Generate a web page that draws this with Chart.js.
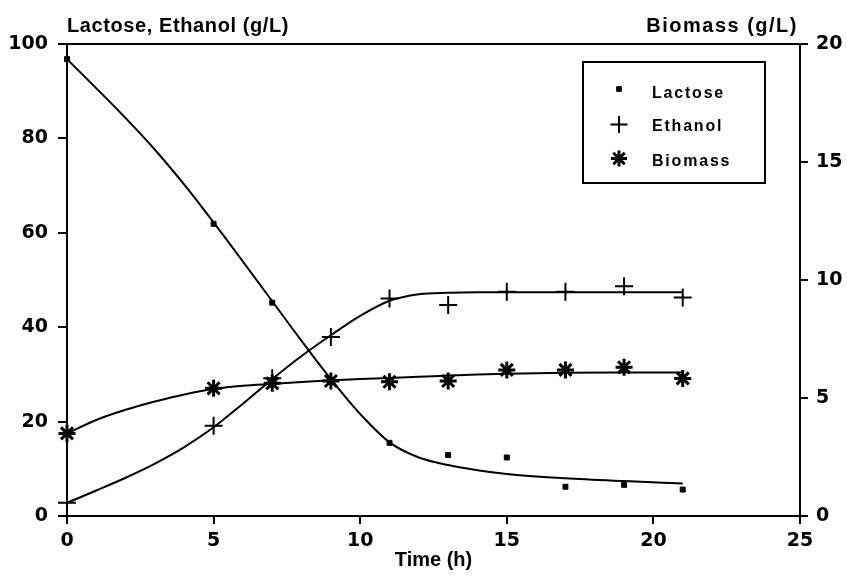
<!DOCTYPE html>
<html>
<head>
<meta charset="utf-8">
<script src="https://cdn.jsdelivr.net/npm/chart.js@4"></script>
<style>
  html, body { margin: 0; padding: 0; background: #fff; }
  #wrap { width: 847px; height: 578px; position: relative; }
</style>
</head>
<body>
<div id="wrap"><canvas id="c" width="847" height="578"></canvas></div>
<script>
// Measured data
const times = [0, 5, 7, 9, 11, 13, 15, 17, 19, 21];
const lactose = [96.8, 61.9, 45.2, 28.5, 15.5, 12.9, 12.4, 6.2, 6.6, 5.6];
const ethanol = [2.8, 19.1, 29.2, 37.9, 46.1, 44.7, 47.5, 47.5, 48.7, 46.3];
const biomass = [3.5, 5.41, 5.62, 5.72, 5.69, 5.72, 6.19, 6.19, 6.30, 5.83];

// Fitted model curves
const fitTimes = [0, 1, 2, 3, 4, 5, 6, 7, 8, 9, 10, 11, 12, 13, 14, 15, 17, 19, 21];
const lactoseFit = [96.8, 90.6, 84.3, 77.6, 70.2, 62.2, 53.9, 45.5, 37.1, 29.0, 21.6, 15.6, 12.4, 10.8, 9.7, 8.9, 8.0, 7.4, 6.9];
const ethanolFit = [2.8, 5.4, 8.1, 11.1, 14.6, 18.8, 23.8, 29.0, 33.9, 38.3, 42.4, 45.6, 47.0, 47.3, 47.4, 47.4, 47.4, 47.4, 47.4];
const biomassFit = [3.5, 4.07, 4.5, 4.85, 5.15, 5.38, 5.52, 5.6, 5.68, 5.75, 5.8, 5.85, 5.9, 5.95, 6.0, 6.03, 6.07, 6.08, 6.08];

const xTicks = [0, 5, 10, 15, 20, 25];
const leftTitle = 'Lactose, Ethanol (g/L)';
const rightTitle = 'Biomass (g/L)';
const xTitle = 'Time (h)';
const legendNames = ['Lactose', 'Ethanol', 'Biomass'];

const FONT = "'Liberation Sans', Arial, sans-serif";
const TICKFONT = "'DejaVu Sans', sans-serif";
const pts = (xs, ys) => xs.map((x, i) => ({ x: x, y: ys[i] }));

const fitStyle = {
  showLine: true, pointRadius: 0, borderColor: '#000', borderWidth: 2,
  cubicInterpolationMode: 'monotone', fill: false, clip: false
};

const datasets = [
  Object.assign({ label: 'Lactose fit', data: pts(fitTimes, lactoseFit), yAxisID: 'y' }, fitStyle),
  Object.assign({ label: 'Ethanol fit', data: pts(fitTimes, ethanolFit), yAxisID: 'y' }, fitStyle),
  Object.assign({ label: 'Biomass fit', data: pts(fitTimes, biomassFit), yAxisID: 'y2' }, fitStyle),
  { label: legendNames[0], data: pts(times, lactose), yAxisID: 'y', showLine: false, clip: false,
    pointStyle: 'rect', pointRadius: 3.5, borderColor: '#000', backgroundColor: '#000', borderWidth: 1 },
  { label: legendNames[1], data: pts(times, ethanol), yAxisID: 'y', showLine: false, clip: false,
    pointStyle: 'cross', pointRadius: 9, borderColor: '#000', backgroundColor: '#000', borderWidth: 2 },
  { label: legendNames[2], data: pts(times, biomass), yAxisID: 'y2', showLine: false, clip: false,
    pointStyle: 'star', pointRadius: 8.5, borderColor: '#000', backgroundColor: '#000', borderWidth: 3 }
];

const framePlugin = {
  id: 'frame',
  afterDatasetsDraw(chart) {
    const ctx = chart.ctx, a = chart.chartArea;
    ctx.save();
    ctx.strokeStyle = '#000';
    ctx.lineWidth = 2;
    ctx.beginPath();
    ctx.moveTo(a.left, a.top);
    ctx.lineTo(a.right, a.top);
    ctx.stroke();
    // top titles
    ctx.fillStyle = '#000';
    ctx.font = 'bold 20px ' + FONT;
    ctx.textBaseline = 'alphabetic';
    try { ctx.letterSpacing = '0.6px'; } catch (e) {}
    ctx.textAlign = 'left';
    ctx.fillText(leftTitle, a.left, 32);
    try { ctx.letterSpacing = '1.5px'; } catch (e) {}
    ctx.textAlign = 'right';
    ctx.fillText(rightTitle, a.right - 2, 32);
    // legend box
    const bx = 583, by = 62, bw = 182, bh = 121;
    ctx.lineWidth = 2;
    ctx.strokeRect(bx, by, bw, bh);
    const rows = [93.5, 127, 161.5];
    const mky = [89, 124.5, 158.5];
    const mk = [3, 4, 5];
    ctx.textAlign = 'left';
    ctx.textBaseline = 'middle';
    ctx.font = 'bold 16px ' + FONT;
    try { ctx.letterSpacing = '1.8px'; } catch (e) {}
    mk.forEach((di, i) => {
      const ds = chart.data.datasets[di];
      ctx.strokeStyle = '#000';
      ctx.fillStyle = '#000';
      ctx.lineWidth = ds.borderWidth;
      Chart.helpers.drawPoint(ctx, { pointStyle: ds.pointStyle, radius: ds.pointRadius * 0.95, rotation: 0, borderWidth: ds.borderWidth }, 619, mky[i]);
      ctx.fillStyle = '#000';
      ctx.fillText(ds.label, 652, rows[i]);
    });
    ctx.restore();
  }
};

const tickFont = { family: TICKFONT, size: 19, weight: 'bold' };

new Chart(document.getElementById('c'), {
  type: 'scatter',
  data: { datasets: datasets },
  plugins: [framePlugin],
  options: {
    responsive: false,
    animation: false,
    layout: { padding: { top: 44, left: 0, right: 0, bottom: 0 } },
    plugins: { legend: { display: false }, tooltip: { enabled: false } },
    scales: {
      x: {
        type: 'linear', min: 0, max: 25,
        afterBuildTicks: (s) => { s.ticks = xTicks.map(v => ({ value: v })); },
        afterFit: (s) => { s.height = 62; },
        grid: { display: true, drawOnChartArea: false, drawTicks: true, tickLength: 8, color: '#000', lineWidth: 2 },
        border: { display: true, color: '#000', width: 2 },
        ticks: { color: '#000', font: tickFont, padding: 6 },
        title: { display: true, text: xTitle, color: '#000', font: { family: FONT, size: 20, weight: 'bold' }, padding: { top: 0, bottom: 6 } }
      },
      y: {
        type: 'linear', position: 'left', min: 0, max: 100,
        ticks: { stepSize: 20, color: '#000', font: tickFont, padding: 10 },
        afterFit: (s) => { s.width = 67; },
        grid: { display: true, drawOnChartArea: false, drawTicks: true, tickLength: 9, color: '#000', lineWidth: 2 },
        border: { display: true, color: '#000', width: 2 }
      },
      y2: {
        type: 'linear', position: 'right', min: 0, max: 20,
        ticks: { stepSize: 5, color: '#000', font: tickFont, padding: 8 },
        afterFit: (s) => { s.width = 47; },
        grid: { display: true, drawOnChartArea: false, drawTicks: true, tickLength: 8, color: '#000', lineWidth: 2 },
        border: { display: true, color: '#000', width: 2 }
      }
    }
  }
});
</script>
</body>
</html>
